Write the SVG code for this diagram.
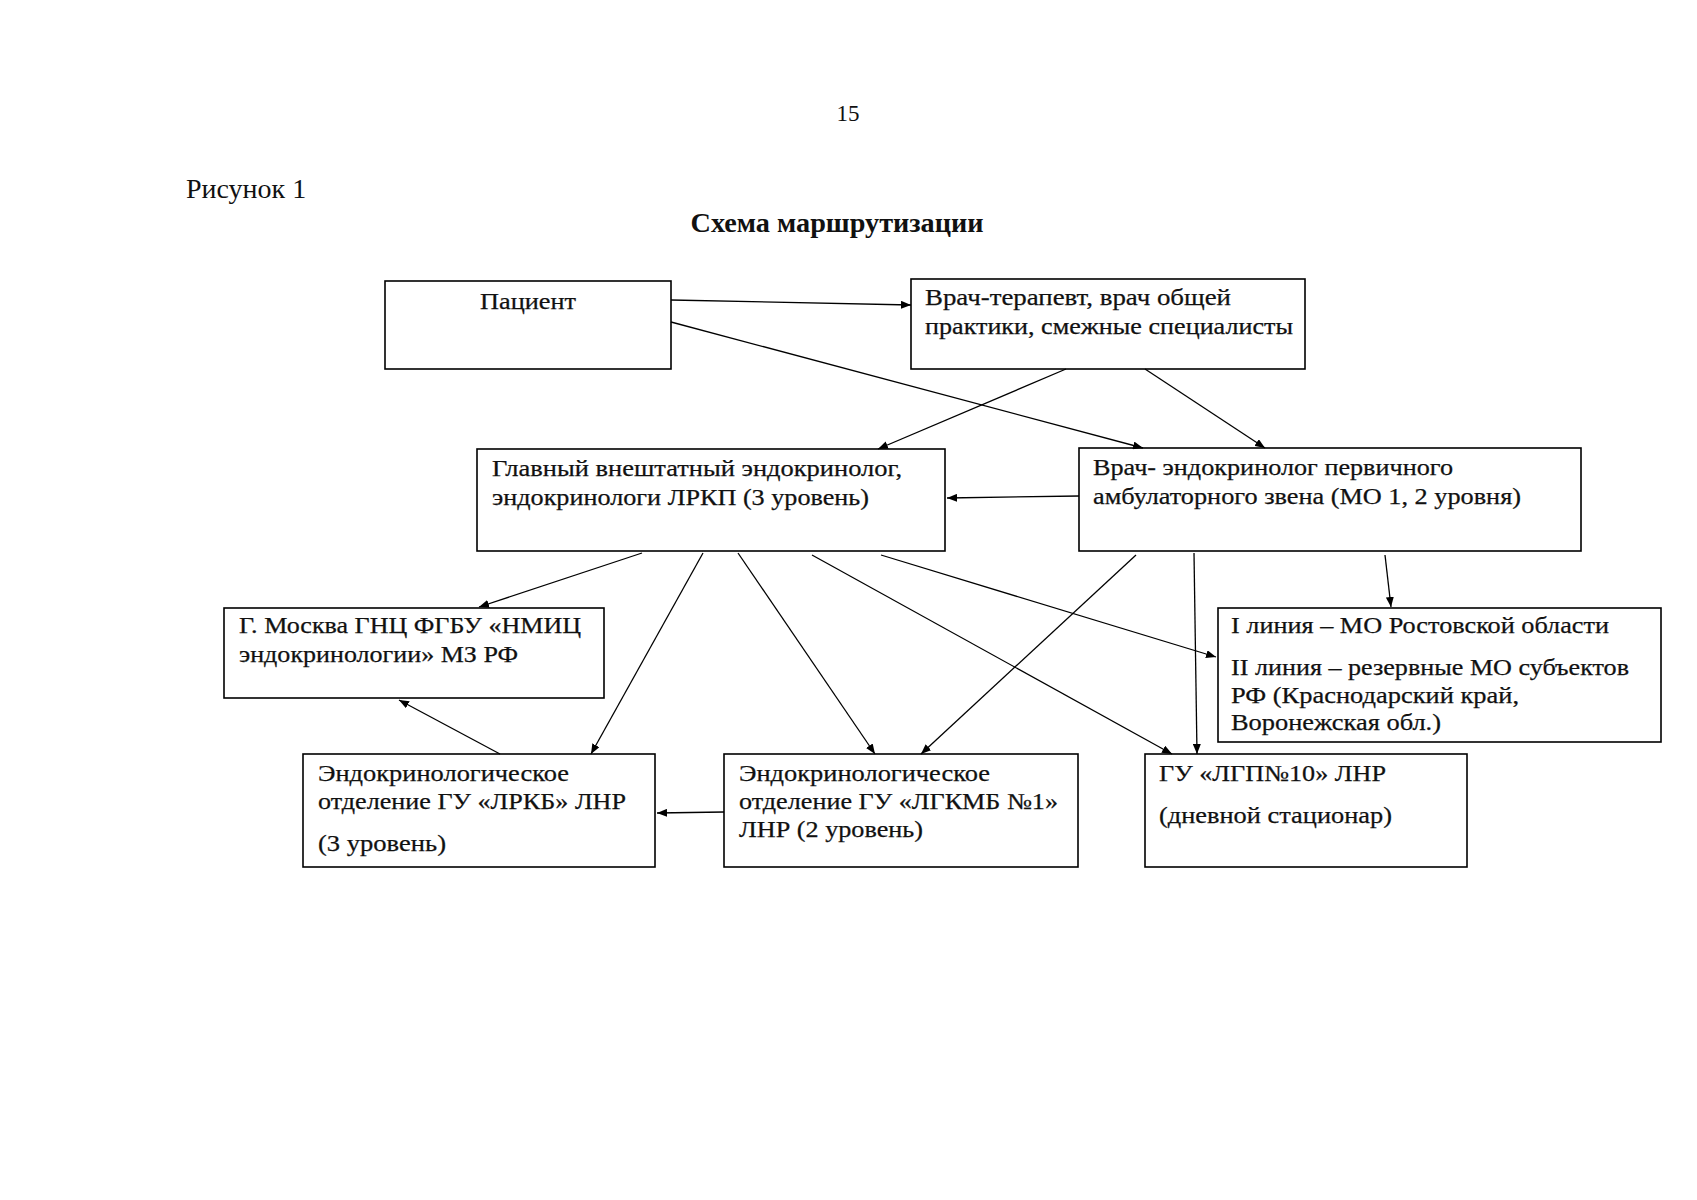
<svg xmlns="http://www.w3.org/2000/svg" width="1697" height="1200" viewBox="0 0 1697 1200">
<style>
text{font-family:"Liberation Serif","Times New Roman",serif;fill:#111}
.t{font-size:23px;stroke:#111;stroke-width:0.25}
.box{fill:#fff;stroke:#000;stroke-width:1.6}
.c line{stroke:#000;stroke-width:1.3;marker-end:url(#ah)}
</style>
<defs>
<marker id="ah" viewBox="0 0 10 8" refX="10" refY="4" markerWidth="10" markerHeight="8" markerUnits="userSpaceOnUse" orient="auto">
<path d="M0,0 L10,4 L0,8 z" fill="#000"/>
</marker>
</defs>
<rect width="1697" height="1200" fill="#fff"/>
<text x="848" y="121" text-anchor="middle" style="font-size:23px">15</text>
<text x="186" y="198" style="font-size:28px">Рисунок 1</text>
<text x="837" y="232" text-anchor="middle" style="font-size:28px;font-weight:bold" textLength="293" lengthAdjust="spacingAndGlyphs">Схема маршрутизации</text>

<g id="n-patient"><rect class="box" x="385" y="281" width="286" height="88"/>
<text class="t" x="528" y="309" text-anchor="middle" textLength="96" lengthAdjust="spacingAndGlyphs">Пациент</text></g>

<g id="n-therapist"><rect class="box" x="911" y="279" width="394" height="90"/>
<text class="t" x="925" y="305" textLength="306" lengthAdjust="spacingAndGlyphs">Врач-терапевт, врач общей</text>
<text class="t" x="925" y="334" textLength="368" lengthAdjust="spacingAndGlyphs">практики, смежные специалисты</text></g>

<g id="n-chief"><rect class="box" x="477" y="449" width="468" height="102"/>
<text class="t" x="492" y="476" textLength="410" lengthAdjust="spacingAndGlyphs">Главный внештатный эндокринолог,</text>
<text class="t" x="492" y="505" textLength="377" lengthAdjust="spacingAndGlyphs">эндокринологи ЛРКП (3 уровень)</text></g>

<g id="n-endo"><rect class="box" x="1079" y="448" width="502" height="103"/>
<text class="t" x="1093" y="475" textLength="360" lengthAdjust="spacingAndGlyphs">Врач- эндокринолог первичного</text>
<text class="t" x="1093" y="504" textLength="428" lengthAdjust="spacingAndGlyphs">амбулаторного звена (МО 1, 2 уровня)</text></g>

<g id="n-moscow"><rect class="box" x="224" y="608" width="380" height="90"/>
<text class="t" x="239" y="633" textLength="342" lengthAdjust="spacingAndGlyphs">Г. Москва ГНЦ ФГБУ «НМИЦ</text>
<text class="t" x="239" y="662" textLength="279" lengthAdjust="spacingAndGlyphs">эндокринологии» МЗ РФ</text></g>

<g id="n-lines"><rect class="box" x="1218" y="608" width="443" height="134"/>
<text class="t" x="1231" y="633" textLength="378" lengthAdjust="spacingAndGlyphs">I линия – МО Ростовской области</text>
<text class="t" x="1231" y="675" textLength="398" lengthAdjust="spacingAndGlyphs">II линия – резервные МО субъектов</text>
<text class="t" x="1231" y="703" textLength="288" lengthAdjust="spacingAndGlyphs">РФ (Краснодарский край,</text>
<text class="t" x="1231" y="730" textLength="210" lengthAdjust="spacingAndGlyphs">Воронежская обл.)</text></g>

<g id="n-lrkb"><rect class="box" x="303" y="754" width="352" height="113"/>
<text class="t" x="318" y="781" textLength="251" lengthAdjust="spacingAndGlyphs">Эндокринологическое</text>
<text class="t" x="318" y="809" textLength="308" lengthAdjust="spacingAndGlyphs">отделение ГУ «ЛРКБ» ЛНР</text>
<text class="t" x="318" y="851" textLength="128" lengthAdjust="spacingAndGlyphs">(3 уровень)</text></g>

<g id="n-lgkmb"><rect class="box" x="724" y="754" width="354" height="113"/>
<text class="t" x="739" y="781" textLength="251" lengthAdjust="spacingAndGlyphs">Эндокринологическое</text>
<text class="t" x="739" y="809" textLength="319" lengthAdjust="spacingAndGlyphs">отделение ГУ «ЛГКМБ №1»</text>
<text class="t" x="739" y="837" textLength="184" lengthAdjust="spacingAndGlyphs">ЛНР (2 уровень)</text></g>

<g id="n-lgp"><rect class="box" x="1145" y="754" width="322" height="113"/>
<text class="t" x="1159" y="781" textLength="227" lengthAdjust="spacingAndGlyphs">ГУ «ЛГП№10» ЛНР</text>
<text class="t" x="1159" y="823" textLength="233" lengthAdjust="spacingAndGlyphs">(дневной стационар)</text></g>

<g id="connectors" class="c">
<line x1="671" y1="300" x2="911" y2="305"/>
<line x1="671" y1="322" x2="1143" y2="448"/>
<line x1="1066" y1="369" x2="878" y2="449"/>
<line x1="1145" y1="369" x2="1265" y2="448"/>
<line x1="1079" y1="496" x2="947" y2="498"/>
<line x1="642" y1="553" x2="479" y2="607"/>
<line x1="703" y1="553" x2="591" y2="754"/>
<line x1="738" y1="553" x2="875" y2="754"/>
<line x1="812" y1="555" x2="1172" y2="754"/>
<line x1="881" y1="555" x2="1216" y2="657"/>
<line x1="1136" y1="555" x2="921" y2="754"/>
<line x1="1194" y1="553" x2="1197" y2="754"/>
<line x1="1385" y1="555" x2="1391" y2="607"/>
<line x1="500" y1="754" x2="399" y2="700"/>
<line x1="724" y1="812" x2="657" y2="813"/>
</g>
</svg>
